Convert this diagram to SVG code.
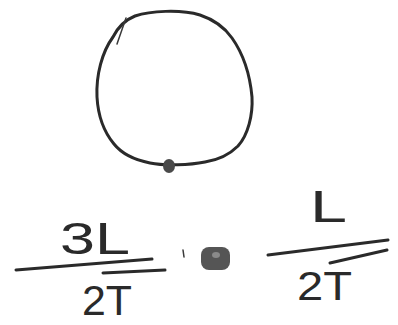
<svg xmlns="http://www.w3.org/2000/svg" width="398" height="325" viewBox="0 0 398 325">
<style>
.ink{fill:none;stroke:#2a2a2a;stroke-width:3;stroke-linecap:round;stroke-linejoin:round}
.thin{fill:none;stroke:#3a3a3a;stroke-width:1.5;stroke-linecap:round}
.hand{font-family:"Liberation Sans","DejaVu Sans",sans-serif;fill:#2a2a2a;font-weight:normal}
</style>
<rect width="398" height="325" fill="#ffffff"/>
<g id="loop">
<path class="ink" d="M 113 37 C 118 27, 125 20, 135 16 C 150 11, 180 9, 200 15 C 215 20, 225 28, 232 38 C 244 55, 250 75, 252 97 C 253 115, 248 135, 238 146 C 228 156, 218 160, 205 162 C 190 165, 165 166, 150 163 C 135 160, 122 154, 114 144 C 104 132, 98 115, 97 97 C 96 75, 102 52, 113 37 Z"/>
<path class="thin" d="M 126 18 L 117 44"/>
</g>
<g id="dot">
<ellipse cx="169" cy="166" rx="6" ry="7" fill="#4a4a4a"/>
</g>
<g id="left-fraction">
<text class="hand" x="60" y="254" font-size="44" textLength="70" lengthAdjust="spacingAndGlyphs">3L</text>
<path class="ink" d="M 16 270 L 152 259"/>
<path class="ink" d="M 103 273 L 165 270"/>
<text class="hand" x="82" y="315" font-size="42" textLength="50" lengthAdjust="spacingAndGlyphs">2T</text>
</g>
<g id="middle">
<path class="thin" d="M 183 250 L 184 257"/>
<rect x="201" y="247" width="29" height="23" rx="8" fill="#555555"/>
<ellipse cx="216" cy="255" rx="4" ry="3" fill="#8a8a8a"/>
</g>
<g id="right-fraction">
<text class="hand" x="310" y="222" font-size="44" textLength="37" lengthAdjust="spacingAndGlyphs">L</text>
<path class="ink" d="M 268 255 L 388 240"/>
<path class="ink" d="M 330 263 L 387 250"/>
<text class="hand" x="297" y="300" font-size="40" textLength="55" lengthAdjust="spacingAndGlyphs">2T</text>
</g>
</svg>
